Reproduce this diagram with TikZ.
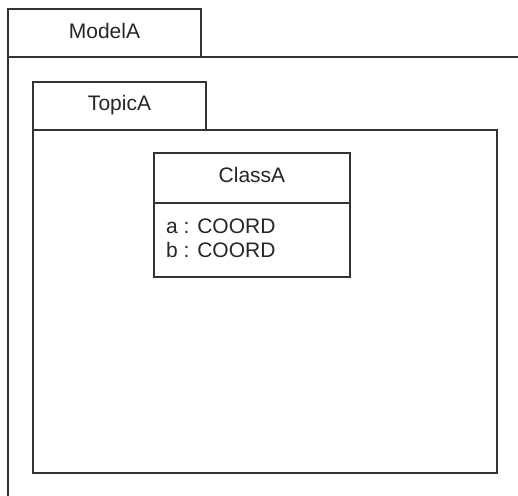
\documentclass[tikz,border=0pt]{standalone}
\usepackage{fontspec}
\setmainfont{Liberation Sans}
\begin{document}
\begin{tikzpicture}[x=1pt,y=-1pt,
  frame/.style={draw=black!80, line width=1.6pt},
  boxnode/.style={frame, inner sep=0pt, outer sep=0pt, fill=white},
  lbl/.style={anchor=base, inner sep=0pt, text=black!85, font=\fontsize{21}{24}\selectfont},
  attr/.style={anchor=base west, inner sep=0pt, text=black!85, font=\fontsize{21}{24}\selectfont}]
\useasboundingbox (0,0) rectangle (518,495);
% model package
\coordinate (mtl) at (8,57);
\coordinate (mtr) at (518,57);
\coordinate (mbl) at (8,496);
\draw[frame] (mbl) -- (mtl) -- (mtr);
\node[boxnode, minimum width=193pt, minimum height=48pt] (modeltab) at (104.5,33) {};
\node[lbl] (modelname) at (104.5,38) {ModelA};
% topic package
\node[boxnode, minimum width=464pt, minimum height=343pt] (topicbody) at (265,301.5) {};
\node[boxnode, minimum width=173pt, minimum height=48pt] (topictab) at (119.5,106) {};
\node[lbl] (topicname) at (119.5,110) {TopicA};
% class
\node[boxnode, minimum width=196pt, minimum height=124pt] (classbox) at (252,215) {};
\coordinate (sepl) at (154,203);
\coordinate (sepr) at (350,203);
\draw[frame] (sepl) -- (sepr);
\node[lbl] (classname) at (252,182) {ClassA};
\node[attr] (attra) at (166,233) {a : COORD};
\node[attr] (attrb) at (166,257) {b : COORD};
\end{tikzpicture}
\end{document}
